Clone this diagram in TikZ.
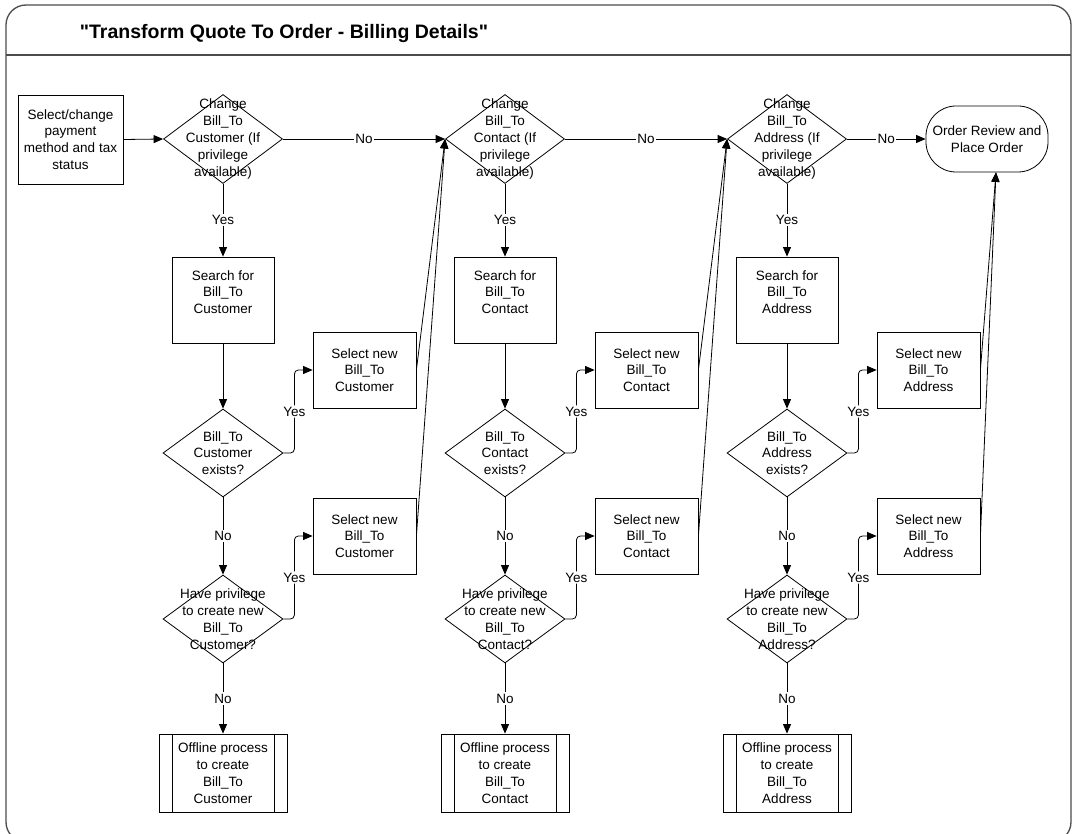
\documentclass[tikz,border=0pt]{standalone}
\usepackage{fontspec}
\setmainfont{Liberation Sans}[Ligatures=TeXOff]
\usetikzlibrary{shapes.geometric,arrows.meta,calc}

\begin{document}
\begin{tikzpicture}[x=1pt,y=-1pt,
  font=\fontsize{13.5}{16.8}\selectfont,
  line width=0.8pt,
  arr/.style={-{Triangle[length=9.5pt,width=8pt]}},
  framec/.style={draw=black!70, line width=1.3pt},
  startbox/.style={draw, rectangle, minimum width=105pt, minimum height=89pt, align=center, inner sep=0pt},
  dia/.style={draw, diamond, minimum width=119pt, minimum height=89pt, inner sep=0pt},
  dtext/.style={align=center, inner sep=0pt},
  search/.style={draw, rectangle, minimum width=102pt, minimum height=86pt},
  selbox/.style={draw, rectangle, minimum width=103pt, minimum height=76pt, align=center, inner sep=0pt},
  offbox/.style={draw, rectangle, minimum width=128pt, minimum height=78pt, align=center, inner sep=0pt,
    path picture={
      \draw ([xshift=13pt]path picture bounding box.north west) -- ([xshift=13pt]path picture bounding box.south west);
      \draw ([xshift=-13pt]path picture bounding box.north east) -- ([xshift=-13pt]path picture bounding box.south east);
    }},
  term/.style={draw, rectangle, rounded corners=30pt, minimum width=122pt, minimum height=66pt, align=center, inner sep=0pt},
  lbl/.style={fill=white, inner sep=1.5pt}
]
\useasboundingbox (0,0) rectangle (1074,834);

% frame and title bar
\draw[framec, rounded corners=20pt] (6,5) rectangle (1071,842);
\draw[framec] (6,55) -- (1071,55);
\node[font=\fontsize{19.5}{22}\selectfont\bfseries] (title) at (284,34) {"Transform Quote To Order - Billing Details"};

% entry and exit
\node[startbox] (start) at (70.5,139.5) {Select/change\\payment\\method and tax\\status};
\node[term] (done) at (987,139) {Order Review and\\Place Order};
\coordinate (donein) at ([xshift=9pt]done.south);

% one column per Bill_To item
\foreach \i/\x/\name in {1/223/Customer, 2/505/Contact, 3/787/Address}{
  \node[dia] (c\i) at (\x,139) {};
  \node[dtext] (ct\i) at (c\i) {Change\\Bill\_To\\\name{} (If\\privilege\\available)};
  \node[search] (s\i) at (\x,300) {};
  \node[dtext] (st\i) at ([yshift=8pt]s\i.center) {Search for\\Bill\_To\\\name};
  \node[dia, minimum width=120pt, minimum height=88pt] (e\i) at (\x,453) {};
  \node[dtext] (et\i) at (e\i) {Bill\_To\\\name\\exists?};
  \node[dia, minimum width=120pt, minimum height=88pt] (p\i) at (\x,619) {};
  \node[dtext] (pt\i) at (p\i) {Have privilege\\to create new\\Bill\_To\\\name?};
  \node[offbox] (o\i) at (\x,773) {Offline process\\to create\\Bill\_To\\\name};
  \node[selbox] (u\i) at (\x+141.5,370) {Select new\\Bill\_To\\\name};
  \node[selbox] (l\i) at (\x+141.5,536) {Select new\\Bill\_To\\\name};

  \draw[arr] (c\i.south) -- node[lbl]{Yes} (s\i.north);
  \draw[arr] (s\i.south) -- (e\i.north);
  \draw[arr] (e\i.south) -- node[lbl]{No} (p\i.north);
  \draw[arr] (p\i.south) -- node[lbl]{No} (o\i.north);
  \draw[arr, rounded corners=4pt] (e\i.east) -- ++(11,0) |- node[lbl,pos=0.25]{Yes} (u\i.west);
  \draw[arr, rounded corners=4pt] (p\i.east) -- ++(11,0) |- node[lbl,pos=0.25]{Yes} (l\i.west);
}

% main "No" path along the top
\draw[arr] (start.east) -- (c1.west);
\draw[arr] (c1.east) -- node[lbl]{No} (c2.west);
\draw[arr] (c2.east) -- node[lbl]{No} (c3.west);
\draw[arr] (c3.east) -- node[lbl]{No} (done.west);

% selected items return to the next step
\draw[arr] (u1.east) -- (c2.west);
\draw[arr] (l1.east) -- (c2.west);
\draw[arr] (u2.east) -- (c3.west);
\draw[arr] (l2.east) -- (c3.west);
\draw[arr] (u3.east) -- (donein);
\draw[arr] (l3.east) -- (donein);
\end{tikzpicture}
\end{document}
